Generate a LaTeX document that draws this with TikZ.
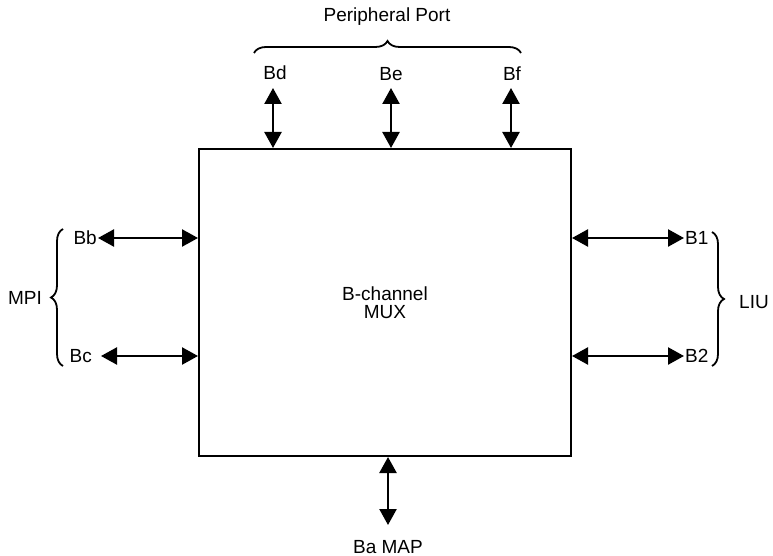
\documentclass[tikz,border=0pt]{standalone}
\usepackage{fontspec}
\setmainfont{Liberation Sans}
\usetikzlibrary{arrows.meta,decorations.pathreplacing}
\begin{document}
\begin{tikzpicture}[x=1pt,y=-1pt,
  lbl/.style={font=\fontsize{19}{18}\selectfont, inner sep=1pt},
  bus/.style={line width=2.4pt, {Triangle[length=16pt,width=17pt]}-{Triangle[length=16pt,width=17pt]}},
  brc/.style={line width=1.8pt, decorate, decoration={brace, amplitude=12pt}}]
\useasboundingbox (0,0) rectangle (773,556);
\node[draw, line width=1.7pt, minimum width=372pt, minimum height=307pt, inner sep=0pt,
  align=center, lbl] (mux) at (385,302.5) {B-channel\\MUX};
% top
\node[lbl] (bd) at (275,73) {Bd};
\node[lbl] (be) at (391,74) {Be};
\node[lbl] (bf) at (512,74) {Bf};
\coordinate (td) at (273,148);
\coordinate (te) at (391,148);
\coordinate (tf) at (511,148);
\draw[bus] (273,88) -- (td);
\draw[bus] (391,88) -- (te);
\draw[bus] (511,88) -- (tf);
\coordinate (pl) at (254,53);
\coordinate (pr) at (521,53);
\draw[brc] (pl) -- (pr);
\node[lbl] (pp) at (387,17) {Peripheral Port};
% left
\node[lbl, anchor=east] (bb) at (98,238) {Bb};
\node[lbl, anchor=east] (bc) at (93,356) {Bc};
\coordinate (lb) at (198,238);
\coordinate (lc) at (198,356);
\draw[bus] (bb.east) -- (lb);
\draw[bus] ([xshift=8pt]bc.east) -- (lc);
\coordinate (ml) at (63,366);
\coordinate (mh) at (63,229);
\draw[brc] (ml) -- (mh);
\node[lbl, anchor=east] (mpi) at (43,298) {MPI};
% right
\node[lbl, anchor=west] (b1) at (684,238) {B1};
\node[lbl, anchor=west] (b2) at (684,356) {B2};
\coordinate (rb) at (572,238);
\coordinate (rc) at (572,356);
\draw[bus] (rb) -- (b1.west);
\draw[bus] (rc) -- (b2.west);
\coordinate (rh) at (712,232);
\coordinate (rl) at (712,366);
\draw[brc] (rh) -- (rl);
\node[lbl, anchor=west] (liu) at (738,302) {LIU};
% bottom
\coordinate (bt) at (388,457);
\node[lbl] (ba) at (388,547) {Ba MAP};
\draw[bus] (bt) -- (388,525);
\end{tikzpicture}
\end{document}
